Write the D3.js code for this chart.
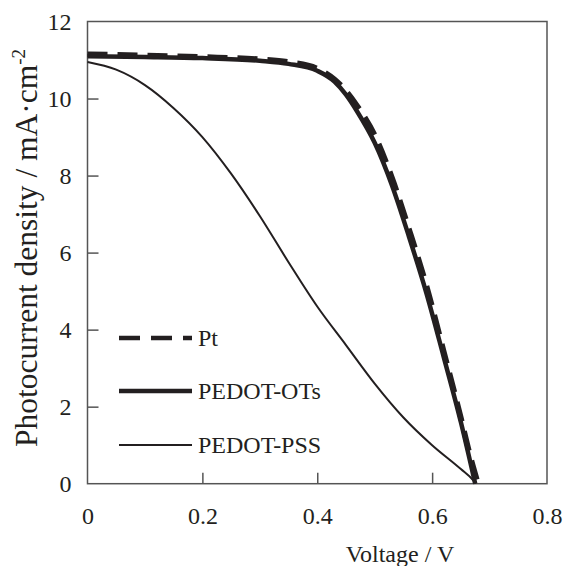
<!DOCTYPE html>
<html><head><meta charset="utf-8">
<script src="https://cdn.jsdelivr.net/npm/d3@7"></script>
<style>body{margin:0;background:#fff}svg{display:block}text{font-family:"Liberation Serif","Times New Roman",Times,serif;fill:#231f20}</style>
</head><body><svg id="c" width="564" height="566"></svg>
<script>
const xTicks=[0,0.2,0.4,0.6,0.8];
const yTicks=[0,2,4,6,8,10,12];
const ptV=[0,0.1,0.2,0.3,0.35,0.4,0.43,0.45,0.47,0.5,0.53,0.56,0.59,0.62,0.65,0.665,0.68];
const ptJ=[11.15,11.12,11.08,11.02,10.95,10.78,10.5,10.2,9.8,9.05,7.95,6.6,5.15,3.45,1.72,0.8,0];
const otsV=[0,0.1,0.2,0.3,0.35,0.4,0.43,0.45,0.47,0.5,0.53,0.56,0.59,0.62,0.65,0.675];
const otsJ=[11.1,11.08,11.05,10.98,10.9,10.72,10.44,10.1,9.65,8.85,7.75,6.4,4.95,3.3,1.6,0];
const pssV=[0,0.05,0.1,0.15,0.2,0.25,0.3,0.35,0.4,0.45,0.5,0.55,0.6,0.65,0.672,0.676];
const pssJ=[10.95,10.75,10.35,9.75,9.0,8.05,6.95,5.75,4.6,3.6,2.6,1.72,1.0,0.38,0.08,0];
const seriesNames=["Pt","PEDOT-OTs","PEDOT-PSS"];

const svg=d3.select("#c");
const L=87.5,R=547,T=21.5,B=483.7;
const x=d3.scaleLinear().domain([0,0.8]).range([L,R]);
const y=d3.scaleLinear().domain([0,12]).range([B,T]);
const frame="#555";

svg.append("rect").attr("x",L).attr("y",T).attr("width",R-L).attr("height",B-T)
  .attr("fill","none").attr("stroke",frame).attr("stroke-width",1.5);

const xa=svg.append("g").attr("transform",`translate(0,${B})`)
  .call(d3.axisBottom(x).tickValues(xTicks).tickSizeInner(-11).tickSizeOuter(0).tickPadding(23).tickFormat(d=>d===0?"0":d3.format(".1f")(d)));
const ya=svg.append("g").attr("transform",`translate(${L},0)`)
  .call(d3.axisLeft(y).tickValues(yTicks).tickSizeInner(-11).tickSizeOuter(0).tickPadding(16).tickFormat(d3.format("d")));
[xa,ya].forEach(a=>{a.select(".domain").remove();a.selectAll("line").attr("stroke",frame).attr("stroke-width",1.5);
  a.selectAll("text").style("font-size","24px").attr("fill","#231f20").style("font-family",'"Liberation Serif","Times New Roman",Times,serif');});
xa.selectAll(".tick").filter(d=>d===0||d===0.8).select("line").remove();
ya.selectAll(".tick").filter(d=>d===0||d===12).select("line").remove();

const line=d3.line().x(d=>x(d[0])).y(d=>y(d[1])).curve(d3.curveMonotoneX);
const pss=pssV.map((v,i)=>[v,pssJ[i]]);
const ots=otsV.map((v,i)=>[v,otsJ[i]]);
const pt=ptV.map((v,i)=>[v,ptJ[i]]);
svg.append("path").attr("d",line(pss)).attr("fill","none").attr("stroke","#231f20").attr("stroke-width",2);
svg.append("path").attr("d",line(ots)).attr("fill","none").attr("stroke","#231f20").attr("stroke-width",4.5);
svg.append("path").attr("d",line(pt)).attr("fill","none").attr("stroke","#231f20").attr("stroke-width",5.5).attr("stroke-dasharray","20,10");

// legend
const lg=[{y:338,w:4.5,dash:"21,11"},{y:391,w:4.5,dash:null},{y:445,w:2,dash:null}];
lg.forEach((l,i)=>{
  const p=svg.append("line").attr("x1",119).attr("x2",192).attr("y1",l.y).attr("y2",l.y).attr("stroke","#231f20").attr("stroke-width",l.w);
  if(l.dash)p.attr("stroke-dasharray",l.dash);
  svg.append("text").attr("x",198).attr("y",l.y+8).style("font-size","24px").text(seriesNames[i]);
});

svg.append("text").attr("x",400).attr("y",562).attr("text-anchor","middle").style("font-size","24px").text("Voltage / V");
const yl=svg.append("text").attr("transform","translate(37,248) rotate(-90)").attr("text-anchor","middle").style("font-size","31.5px");
yl.append("tspan").text("Photocurrent density / mA·cm");
yl.append("tspan").attr("dy",-12).style("font-size","19px").text("-2");
</script></body></html>
